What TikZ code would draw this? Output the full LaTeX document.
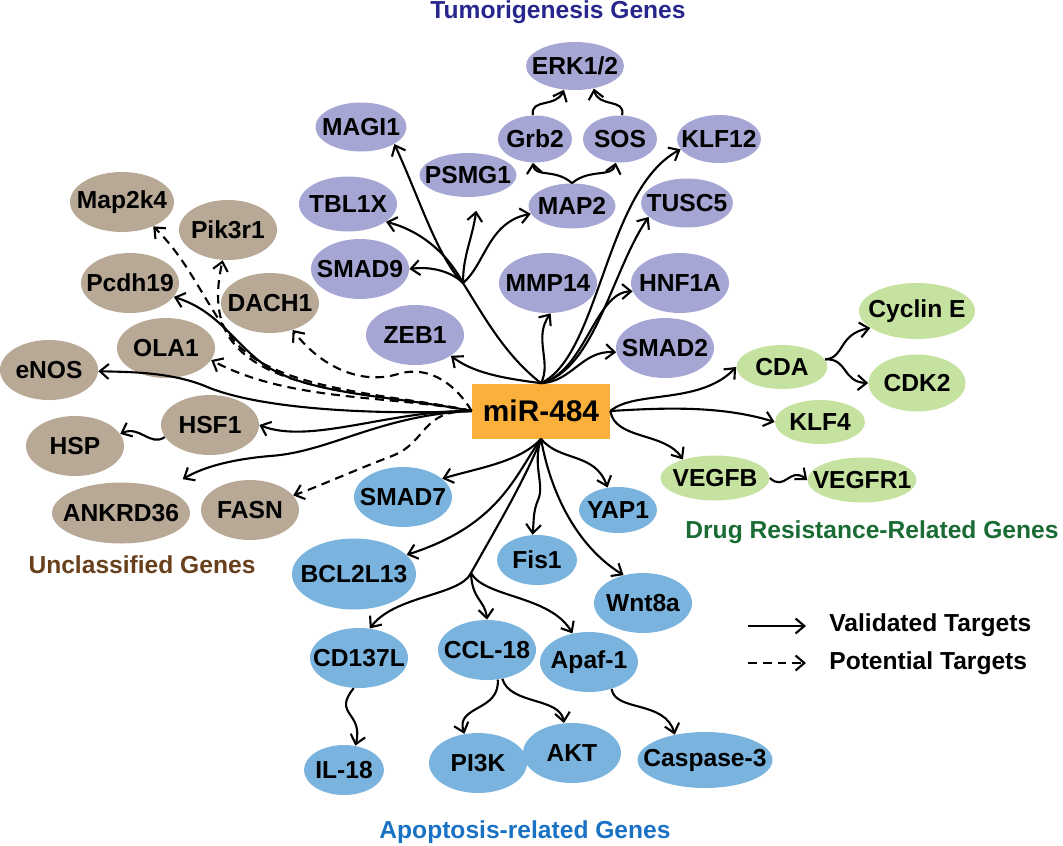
\documentclass[tikz,border=0pt]{standalone}
\usepackage{fontspec}
\setmainfont{Liberation Sans}
\usetikzlibrary{shapes.geometric,arrows.meta}

\definecolor{tumorfill}{RGB}{166,166,212}
\definecolor{drugfill}{RGB}{198,226,160}
\definecolor{unclfill}{RGB}{184,168,150}
\definecolor{apopfill}{RGB}{122,180,222}
\definecolor{mirfill}{RGB}{250,176,58}
\definecolor{tumortext}{RGB}{38,38,140}
\definecolor{drugtext}{RGB}{26,108,52}
\definecolor{uncltext}{RGB}{104,64,28}
\definecolor{apoptext}{RGB}{26,114,196}

\newcommand{\gn}[1]{\makebox[0pt]{#1}}

\tikzset{
  gene/.style={ellipse, inner sep=0pt, font=\bfseries\fontsize{14}{16}\selectfont,
    minimum width=1.96cm, minimum height=1.2cm},
  sz/.style 2 args={minimum width=#1*0.02cm, minimum height=#2*0.02cm},
  tumor/.style={gene, fill=tumorfill},
  drug/.style={gene, fill=drugfill},
  uncl/.style={gene, fill=unclfill},
  apop/.style={gene, fill=apopfill},
  group/.style={font=\bfseries\fontsize{14}{16}\selectfont},
  trunk/.style={line width=1.2pt},
  target/.style={trunk, -{Straight Barb[length=5pt,width=8.5pt]}},
  potential/.style={target, dash pattern=on 5pt off 3.4pt},
}

\begin{document}
\begin{tikzpicture}[x=0.02cm, y=-0.02cm]
\useasboundingbox (0,0) rectangle (1063,846);

% Tumorigenesis genes
\node[tumor, sz={98}{48}] (erk) at (575,66) {\gn{ERK1/2}};
\node[tumor, sz={74}{47}] (grb2) at (535,139) {\gn{Grb2}};
\node[tumor, sz={74}{47}] (sos) at (620,139) {\gn{SOS}};
\node[tumor, sz={84}{48}] (klf12) at (719,139) {\gn{KLF12}};
\node[tumor, sz={91}{49}] (magi) at (361,127) {\gn{MAGI1}};
\node[tumor, sz={97}{44}] (psmg) at (468,175) {\gn{PSMG1}};
\node[tumor, sz={87}{45}] (map2) at (572,206) {\gn{MAP2}};
\node[tumor, sz={98}{55}] (tbl) at (348,204) {\gn{TBL1X}};
\node[tumor, sz={92}{49}] (tusc) at (687,203) {\gn{TUSC5}};
\node[tumor] (smad9) at (360,269) {\gn{SMAD9}};
\node[tumor] (mmp) at (548,283) {\gn{MMP14}};
\node[tumor] (hnf) at (680,283) {\gn{HNF1A}};
\node[tumor] (zeb) at (415,335) {\gn{ZEB1}};
\node[tumor] (smad2) at (665,348) {\gn{SMAD2}};
\node[group, text=tumortext, anchor=base] (tumor-title) at (558,18) {Tumorigenesis Genes};

% miRNA
\node[fill=mirfill, minimum width=2.76cm, minimum height=1.1cm, inner sep=0pt,
  font=\bfseries\fontsize{17}{20}\selectfont] (mir) at (541,411) {miR-484};

% Drug resistance genes
\node[drug, sz={91}{44}] (cda) at (782,367) {\gn{CDA}};
\node[drug, sz={116}{56}] (cyclin) at (917,311) {\gn{Cyclin E}};
\node[drug, sz={97}{57}] (cdk2) at (917,383) {\gn{CDK2}};
\node[drug, sz={90}{44}] (klf4) at (820,422) {\gn{KLF4}};
\node[drug, sz={109}{45}] (vegfb) at (715,478) {\gn{VEGFB}};
\node[drug, sz={109}{45}] (vegfr) at (862,480) {\gn{VEGFR1}};
\node[group, text=drugtext, anchor=base] (drug-title) at (872,538) {Drug Resistance-Related Genes};

% Unclassified genes
\node[uncl, sz={104}{60}] (map2k4) at (122,202) {\gn{Map2k4}};
\node[uncl] (pik) at (228,230) {\gn{Pik3r1}};
\node[uncl] (pcdh) at (130,283) {\gn{Pcdh19}};
\node[uncl] (dach) at (270,303) {\gn{DACH1}};
\node[uncl] (ola) at (166,348) {\gn{OLA1}};
\node[uncl] (enos) at (49,370) {\gn{eNOS}};
\node[uncl] (hsf1) at (210,425) {\gn{HSF1}};
\node[uncl] (hsp) at (75,446) {\gn{HSP}};
\node[uncl, sz={138}{61}] (ank) at (121,513) {\gn{ANKRD36}};
\node[uncl] (fasn) at (250,510) {\gn{FASN}};
\node[group, text=uncltext, anchor=base] (uncl-title) at (142,573) {Unclassified Genes};

% Apoptosis-related genes
\node[apop] (smad7) at (403,497) {\gn{SMAD7}};
\node[apop, sz={78}{46}] (yap) at (618,510) {\gn{YAP1}};
\node[apop, sz={80}{50}] (fis) at (537,560) {\gn{Fis1}};
\node[apop, sz={124}{71}] (bcl) at (354,574) {\gn{BCL2L13}};
\node[apop] (wnt) at (643,603) {\gn{Wnt8a}};
\node[apop] (cd137) at (359,658) {\gn{CD137L}};
\node[apop] (ccl) at (487,650) {\gn{CCL-18}};
\node[apop] (apaf) at (589,662) {\gn{Apaf-1}};
\node[apop, sz={80}{50}] (il18) at (344,770) {\gn{IL-18}};
\node[apop] (pi3k) at (478,763) {\gn{PI3K}};
\node[apop] (akt) at (572,753) {\gn{AKT}};
\node[apop, sz={135}{56}] (casp) at (705,760) {\gn{Caspase-3}};
\node[group, text=apoptext, anchor=base] (apop-title) at (525,838) {Apoptosis-related Genes};

% upward targets
\coordinate (tj) at (463,283);
\draw[target] (mir.north) .. controls (500,378) and (472,372) .. (zeb.-30);
\draw[target] (mir.north) .. controls (552,362) and (533,338) .. (mmp.-85);
\draw[target] (mir.north) .. controls (572,382) and (582,350) .. (smad2.185);
\draw[target] (mir.north) .. controls (585,372) and (595,292) .. (hnf.190);
\draw[target] (mir.north) .. controls (595,370) and (612,270) .. (tusc.200);
\draw[target] (mir.north) .. controls (600,355) and (605,190) .. (klf12.195);
\draw[trunk] (mir.north) .. controls (505,355) and (485,318) .. (tj);
\draw[target] (tj) .. controls (450,258) and (425,232) .. (tbl.-25);
\draw[target] (tj) .. controls (452,272) and (432,266) .. (smad9.east);
\draw[target, shorten >=0.28cm] (tj) .. controls (463,255) and (472,240) .. (psmg.-65);
\draw[target] (tj) .. controls (485,265) and (488,222) .. (map2);
\draw[target] (tj) .. controls (438,258) and (420,200) .. (magi.-27);
\draw[target] (map2.north) .. controls (555,168) and (535,178) .. (grb2.-95);
\draw[target] (map2.north) .. controls (590,168) and (612,178) .. (sos.-100);
\draw[target] (grb2.95) .. controls (530,98) and (556,108) .. (erk.-115);
\draw[target] (sos.85) .. controls (626,98) and (598,108) .. (erk.-50);

% leftward targets
\draw[target] (mir.west) .. controls (380,415) and (260,410) .. (205,386)
  .. controls (170,372) and (130,372) .. (enos);
\draw[target] (mir.west) .. controls (390,395) and (300,395) .. (258,360)
  .. controls (230,337) and (215,310) .. (pcdh);
\draw[target] (mir.west) .. controls (390,410) and (310,445) .. (hsf1.east);
\draw[target, shorten >=0.4cm] (mir.west) .. controls (380,415) and (330,452) .. (270,456)
  .. controls (235,459) and (205,466) .. (ank.28);
\draw[target] (hsf1.-165) .. controls (150,447) and (140,425) .. (hsp.15);
\draw[potential] (mir.west) .. controls (400,395) and (280,392) .. (236,343)
  .. controls (205,305) and (190,262) .. (map2k4.-38);
\draw[potential] (mir.west) .. controls (400,395) and (280,396) .. (236,346)
  .. controls (214,322) and (216,290) .. (pik.-100);
\draw[potential] (mir.west) .. controls (390,395) and (290,402) .. (ola.-15);
\draw[potential] (mir.west) .. controls (458,388) and (432,364) .. (398,374)
  .. controls (362,385) and (322,368) .. (dach.-50);
\draw[potential] (mir.west) .. controls (420,410) and (428,442) .. (392,456)
  .. controls (355,470) and (315,488) .. (fasn);

% rightward targets
\draw[target] (mir.east) .. controls (635,390) and (700,405) .. (cda.west);
\draw[target] (mir.east) .. controls (660,408) and (720,405) .. (klf4.west);
\draw[target] (mir.east) .. controls (615,440) and (665,432) .. (vegfb.150);
\draw[target] (cda.10) .. controls (845,358) and (838,334) .. (cyclin.200);
\draw[target] (cda.10) .. controls (848,358) and (842,382) .. (cdk2.west);
\draw[target] (vegfb.east) .. controls (785,492) and (790,466) .. (vegfr.west);

% downward targets
\coordinate (aj) at (471,573);
\draw[target] (mir.south) .. controls (520,462) and (478,468) .. (smad7.25);
\draw[target] (mir.south) .. controls (515,475) and (500,525) .. (bcl.20);
\draw[target] (mir.south) .. controls (532,465) and (545,485) .. (538,500)
  .. controls (533,512) and (534,520) .. (fis.100);
\draw[target] (mir.south) .. controls (560,462) and (595,452) .. (yap.115);
\draw[target] (mir.south) .. controls (550,490) and (575,545) .. (wnt.125);
\draw[trunk] (mir.south) .. controls (525,480) and (495,530) .. (aj);
\draw[target] (aj) .. controls (460,596) and (395,595) .. (cd137.70);
\draw[target] (aj) .. controls (472,600) and (485,600) .. (ccl.north);
\draw[target] (aj) .. controls (485,598) and (550,595) .. (apaf.120);
\draw[target] (cd137.-100) .. controls (332,715) and (364,712) .. (il18.65);
\draw[target] (ccl.-70) .. controls (500,712) and (455,705) .. (pi3k.115);
\draw[target] (ccl.-62) .. controls (510,705) and (560,697) .. (akt.105);
\draw[target] (apaf.-50) .. controls (615,712) and (665,700) .. (casp.140);

% legend
\coordinate (val-a) at (748,626);
\coordinate (val-b) at (806,626);
\coordinate (pot-a) at (748,663);
\coordinate (pot-b) at (806,663);
\draw[target] (val-a) -- (val-b);
\draw[potential] (pot-a) -- (pot-b);
\node[group, anchor=base west, inner sep=0pt] (leg-val) at (829,631) {Validated Targets};
\node[group, anchor=base west, inner sep=0pt] (leg-pot) at (829,669) {Potential Targets};
\end{tikzpicture}
\end{document}
